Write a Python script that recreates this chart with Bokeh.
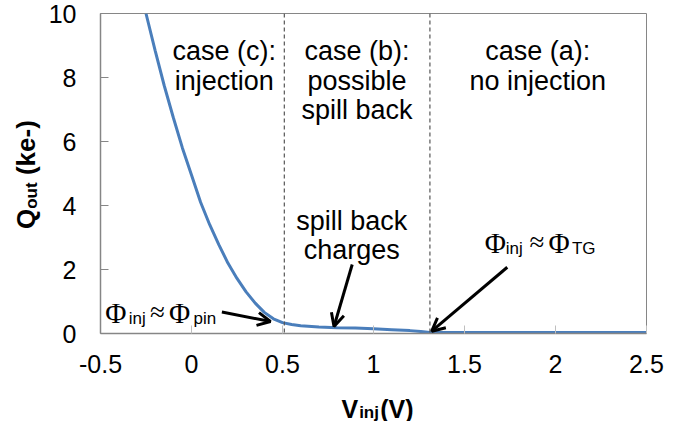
import math
from bokeh.plotting import figure
from bokeh.layouts import row, column
from bokeh.models import Range1d, FixedTicker, Span, Arrow, OpenHead, Label, Div
from bokeh.embed import file_html
from bokeh.resources import INLINE

# ---- data ----
v_inj = [-0.25, -0.20, -0.15, -0.10, -0.05, 0.00, 0.05, 0.10, 0.15, 0.20, 0.25, 0.30,
         0.35, 0.40, 0.45, 0.50, 0.55, 0.60, 0.70, 0.80, 0.90, 1.00, 1.10, 1.20, 1.26,
         1.31, 1.40, 2.00, 2.50]
q_out = [10.0, 8.85, 7.75, 6.75, 5.80, 4.95, 4.10, 3.40, 2.78, 2.20, 1.72, 1.30,
         0.95, 0.66, 0.46, 0.34, 0.28, 0.24, 0.20, 0.18, 0.17, 0.15, 0.12, 0.09, 0.06,
         0.03, 0.03, 0.03, 0.03]

x_ticks = [-0.5, 0.0, 0.5, 1.0, 1.5, 2.0, 2.5]
x_tick_labels = ["-0.5", "0", "0.5", "1", "1.5", "2", "2.5"]
y_ticks = [0, 2, 4, 6, 8, 10]
y_tick_labels = ["0", "2", "4", "6", "8", "10"]

case_boundaries = [0.51, 1.31]

X_START, X_END = -0.5, 2.5
Y_START, Y_END = 0.0, 10.0

# page geometry (pixels)
W, H = 691, 421
YT_W = 45          # strip holding the y-axis title
XT_H = 35          # strip holding the x-axis title
FL, FR, FT, FB = 97, 646, 13, 333   # plot frame in page pixels

PW, PH = W - YT_W, H - XT_H
p = figure(width=PW, height=PH, x_range=Range1d(X_START, X_END), y_range=Range1d(Y_START, Y_END),
           output_backend="svg", toolbar_location=None,
           min_border_left=FL - YT_W, min_border_right=W - FR, min_border_top=FT,
           min_border_bottom=PH - FB)
p.xgrid.visible = False
p.ygrid.visible = False
p.outline_line_color = "#868686"
p.outline_line_width = 1
p.background_fill_color = "white"
p.border_fill_color = "white"

GRAY = "#868686"
for ax in (p.xaxis[0], p.yaxis[0]):
    ax.axis_line_color = GRAY
    ax.axis_line_width = 1.5
    ax.major_tick_out = 0
    ax.major_tick_in = 8
    ax.minor_tick_line_color = None
    ax.major_label_text_font = "Liberation Sans"
    ax.major_label_text_font_size = "25px"
    ax.major_label_text_color = "black"

p.xaxis[0].ticker = FixedTicker(ticks=x_ticks)
p.xaxis[0].major_label_overrides = {t: s for t, s in zip(x_ticks, x_tick_labels)}
p.xaxis[0].major_tick_line_color = "#bfbfbf"
p.xaxis[0].major_label_standoff = 21
p.yaxis[0].ticker = FixedTicker(ticks=y_ticks)
p.yaxis[0].major_label_overrides = {t: s for t, s in zip(y_ticks, y_tick_labels)}
p.yaxis[0].major_tick_line_color = GRAY
p.yaxis[0].major_label_standoff = 24

for xb in case_boundaries:
    p.add_layout(Span(location=xb, dimension="height", line_color="#555555",
                      line_width=1.2, line_dash="4 3"))

p.line(v_inj, q_out, line_color="#4a7ebb", line_width=3)


def X(px):
    return X_START + (px - FL) * (X_END - X_START) / (FR - FL)


def Y(py):
    return Y_START + (FB - py) * (Y_END - Y_START) / (FB - FT)


def lab(fig, x, y, s, size, font="Liberation Sans", style="normal", align="left", angle=0.0):
    fig.add_layout(Label(x=x, y=y, text=s, text_font=font,
                         text_font_size=f"{size}px", text_font_style=style,
                         text_align=align, text_baseline="alphabetic",
                         angle=angle, text_color="black"))


def txt(px, py, s, size, **kw):
    lab(p, X(px), Y(py), s, size, **kw)


# case annotations
for cx, lines in [(221.5, ["case (c):", "injection"]),
                  (355.0, ["case (b):", "possible", "spill back"]),
                  (536.6, ["case (a):", "no injection"])]:
    for i, s in enumerate(lines):
        txt(cx, 50.7 + 29.3 * i, s, 27, align="center")

txt(349.6, 220, "spill back", 27, align="center")
txt(349.6, 249, "charges", 27, align="center")

# Phi annotations
SERIF = "Liberation Serif"
for (x0, xs1, xeq, x2, xs2, base, sub2) in [(101.7, 125.5, 146.7, 166.0, 190.5, 312, "pin"),
                                            (483.3, 504.5, 528.3, 547.5, 571.0, 242, "TG")]:
    txt(x0, base, "Φ", 29, font=SERIF)
    txt(xs1, base + 6, "inj", 17)
    txt(xeq, base - 1, "≈", 27, font=SERIF)
    txt(x2, base, "Φ", 29, font=SERIF)
    txt(xs2, base + 6, sub2, 17)

# arrows
for (xs, ys, xe, ye) in [(0.167, 0.672, 0.434, 0.375),
                         (0.883, 2.156, 0.783, 0.219),
                         (1.735, 2.070, 1.320, 0.072)]:
    p.add_layout(Arrow(x_start=xs, y_start=ys, x_end=xe, y_end=ye, line_color="black",
                       line_width=3, end=OpenHead(size=13, line_width=3, line_color="black")))


def strip(w, h):
    f = figure(width=w, height=h, x_range=Range1d(0, w), y_range=Range1d(h, 0),
               output_backend="svg", toolbar_location=None, x_axis_type=None, y_axis_type=None,
               min_border=0, min_border_left=0, min_border_right=0, min_border_top=0,
               min_border_bottom=0)
    f.outline_line_color = None
    f.xgrid.visible = False
    f.ygrid.visible = False
    f.background_fill_color = "white"
    f.border_fill_color = "white"
    return f


# x-axis title strip (below the plot), coordinates in page pixels
xt = strip(PW, XT_H)
oy = PH
lab(xt, 330 - YT_W, 408 - oy, "V", 25, style="bold")
lab(xt, 351 - YT_W, 412 - oy, "inj", 17, style="bold")
lab(xt, 376 - YT_W, 408 - oy, "(V)", 25, style="bold")

# y-axis title (left of the plot), vertical text reading bottom to top
y_title_html = (
    '<div style="position:absolute;left:11px;top:105px;width:30px;height:140px;'
    'writing-mode:vertical-rl;transform:rotate(180deg);text-align:center;white-space:nowrap;'
    "font-family:'Liberation Sans',Arial,sans-serif;font-weight:bold;font-size:26px;"
    'line-height:30px;color:black;">'
    'Q<sub style="font-size:17px;">out</sub> (ke-)</div>'
)
yt = Div(text=y_title_html, width=YT_W, height=H, margin=0,
         styles={"position": "relative", "overflow": "visible"})

layout = row(yt, column(p, xt, spacing=0), spacing=0)

open("out.html", "w").write(file_html(layout, INLINE))
